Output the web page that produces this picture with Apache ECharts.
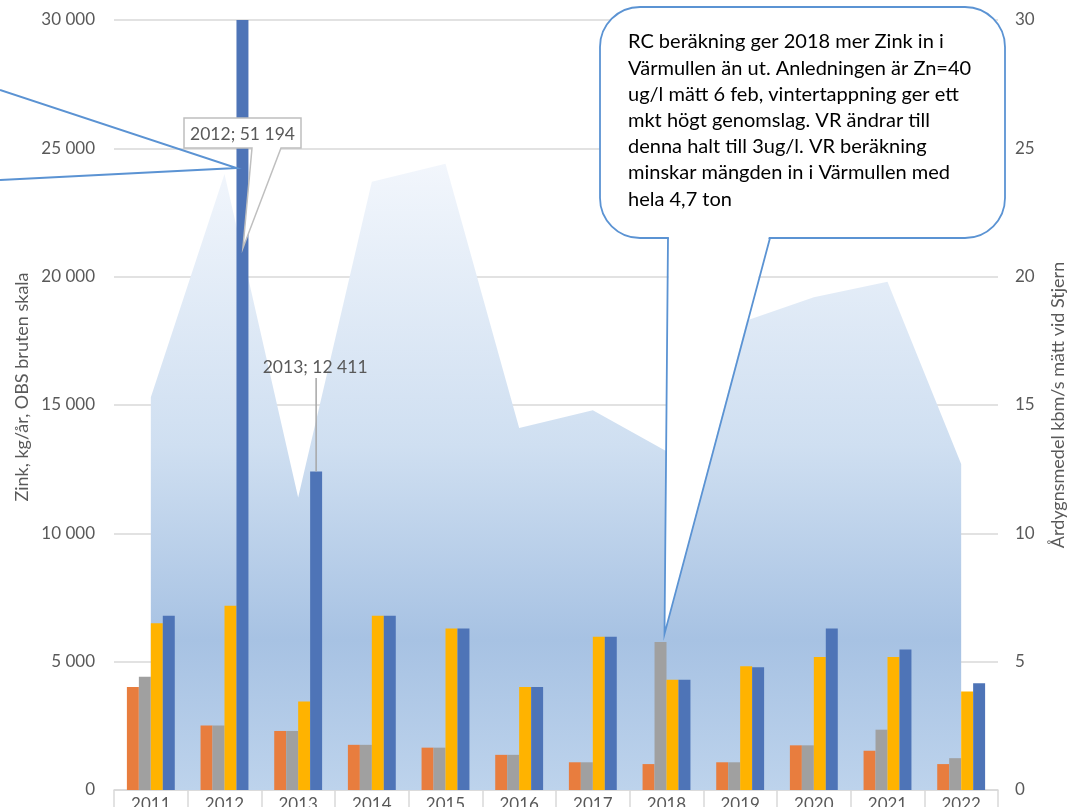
<!DOCTYPE html>
<html>
<head>
<meta charset="utf-8">
<script src="https://cdn.jsdelivr.net/npm/echarts@6/dist/echarts.min.js"></script>
<style>
html,body{margin:0;padding:0;background:#fff;}
#main{width:1082px;height:807px;}
</style>
</head>
<body>
<div id="main"></div>
<script>
const years = ['2011','2012','2013','2014','2015','2016','2017','2018','2019','2020','2021','2022'];
const zinkOrange = [4010, 2510, 2300, 1760, 1650, 1370, 1080, 1010, 1080, 1740, 1530, 1010];
const zinkGray   = [4410, 2510, 2300, 1760, 1650, 1370, 1080, 5770, 1080, 1740, 2350, 1240];
const zinkYellow = [6500, 7180, 3450, 6790, 6290, 4010, 5970, 4300, 4820, 5180, 5180, 3840];
const zinkBlue   = [6790, 51194, 12411, 6790, 6290, 4010, 5970, 4300, 4780, 6290, 5470, 4160];
const flow       = [15.3, 24.0, 11.4, 23.7, 24.4, 14.1, 14.8, 13.2, 18.2, 19.2, 19.8, 12.7];
const leftTicks  = ['0','5 000','10 000','15 000','20 000','25 000','30 000'];
const rightTicks = ['0','5','10','15','20','25','30'];
const leftTitle  = 'Zink, kg/år, OBS bruten skala';
const rightTitle = 'Årdygnsmedel kbm/s mätt vid Stjern';
const noteLines = [
  'RC beräkning ger 2018 mer Zink in i',
  'Värmullen än ut. Anledningen är Zn=40',
  'ug/l mätt 6 feb, vintertappning ger ett',
  'mkt högt genomslag. VR ändrar till',
  'denna halt till 3ug/l. VR beräkning',
  'minskar mängden in i Värmullen med',
  'hela 4,7 ton'
];
const label2012 = '2012; 51 194';
const label2013 = '2013; 12 411';

const FONT = 'Lato, "Open Sans", sans-serif';
const chart = echarts.init(document.getElementById('main'));

const barBase = {
  type: 'bar',
  barGap: '0%',
  barCategoryGap: '35%',
  yAxisIndex: 0,
  xAxisIndex: 0,
  clip: true,
  z: 3
};

chart.setOption({
  animation: false,
  backgroundColor: '#ffffff',
  textStyle: { fontFamily: FONT },
  grid: { left: 114, right: 84, top: 20, bottom: 17, containLabel: false, outerBoundsMode: 'none' },
  xAxis: {
    type: 'category',
    data: years,
    boundaryGap: true,
    axisLine: { lineStyle: { color: '#d9d9d9', width: 1.5 } },
    axisTick: { show: true, interval: 0, length: 22, lineStyle: { color: '#d9d9d9', width: 1.5 } },
    axisLabel: { color: '#595959', fontSize: 17, margin: 6, fontFamily: FONT, interval: 0 }
  },
  yAxis: [
    {
      type: 'value', min: 0, max: 30000, interval: 5000,
      axisLine: { show: false }, axisTick: { show: false },
      splitLine: { lineStyle: { color: '#d9d9d9', width: 1.5 } },
      axisLabel: { color: '#595959', fontSize: 17, margin: 19, fontFamily: FONT,
        formatter: (v) => leftTicks[Math.round(v / 5000)] }
    },
    {
      type: 'value', min: 0, max: 30, interval: 5, position: 'right',
      axisLine: { show: false }, axisTick: { show: false },
      splitLine: { show: false },
      axisLabel: { color: '#595959', fontSize: 17, margin: 17, fontFamily: FONT,
        formatter: (v) => rightTicks[Math.round(v / 5)] }
    }
  ],
  series: [
    {
      type: 'line', name: 'Flöde', data: flow, yAxisIndex: 1, xAxisIndex: 0,
      symbol: 'none', z: 1,
      lineStyle: { width: 0, opacity: 0 },
      areaStyle: {
        opacity: 1,
        color: new echarts.graphic.LinearGradient(0, 0, 0, 1, [
          { offset: 0, color: '#f2f6fc' },
          { offset: 0.45, color: '#cfdff1' },
          { offset: 0.76, color: '#a7c2e3' },
          { offset: 1, color: '#bdd3ec' }
        ])
      }
    },
    Object.assign({}, barBase, { name: 'A', data: zinkOrange, itemStyle: { color: '#e87d3e' } }),
    Object.assign({}, barBase, { name: 'B', data: zinkGray, itemStyle: { color: '#a0a0a0' } }),
    Object.assign({}, barBase, { name: 'C', data: zinkYellow, itemStyle: { color: '#ffb300' } }),
    Object.assign({}, barBase, { name: 'D', data: zinkBlue, itemStyle: { color: '#4e74b7' } })
  ]
});

// anchors derived from the axes
const p2012 = chart.convertToPixel({ xAxisIndex: 0, yAxisIndex: 0 }, ['2012', 0]);
const p2013 = chart.convertToPixel({ xAxisIndex: 0, yAxisIndex: 0 }, ['2013', zinkBlue[2]]);
const p2018 = chart.convertToPixel({ xAxisIndex: 0, yAxisIndex: 0 }, ['2018', zinkGray[7]]);
const catW = p2013[0] - p2012[0];
const barW = catW * 0.65 / 4;
const blue2012X = p2012[0] + 1.5 * barW;
const blue2013X = p2013[0] + 1.5 * barW;

// speech bubble geometry
const bx0 = 600, by0 = 7, bx1 = 1005, by1 = 238, r = 40;
const tailA = 668, tailB = 770;
const tipX = p2018[0] - 2, tipY = p2018[1] - 8;

// 2012 label box geometry
const lx0 = 184, ly0 = 118, lx1 = 301, ly1 = 148;
const lTipX = blue2012X + 0.5, lTipY = 248;

const graphics = [];
// lines from off-canvas callout
graphics.push({ type: 'polyline', z: 50, shape: { points: [[0, 90], [blue2012X - 6, 168], [0, 180]] },
  style: { stroke: '#5b93d3', lineWidth: 2, fill: null } });
graphics.push({ type: 'polygon', z: 60,
  shape: { points: [[lx0, ly0], [lx1, ly0], [lx1, ly1], [281, ly1], [lTipX, lTipY], [252, ly1], [lx0, ly1]] },
  style: { fill: '#ffffff', stroke: '#bfbfbf', lineWidth: 1.5 } });
graphics.push({ type: 'text', z: 61, x: (lx0 + lx1) / 2, y: (ly0 + ly1) / 2 + 1,
  style: { text: label2012, fill: '#595959', font: '17.5px ' + FONT, align: 'center', verticalAlign: 'middle' } });
// 2013 label and leader
graphics.push({ type: 'line', z: 60, shape: { x1: blue2013X, y1: 378, x2: blue2013X, y2: p2013[1] },
  style: { stroke: '#a6a6a6', lineWidth: 1.5 } });
graphics.push({ type: 'text', z: 61, x: blue2013X - 1, y: 367,
  style: { text: label2013, fill: '#595959', font: '17.5px ' + FONT, align: 'center', verticalAlign: 'middle' } });
// bubble
graphics.push({ type: 'rect', z: 70, shape: { x: bx0, y: by0, width: bx1 - bx0, height: by1 - by0, r: r },
  style: { fill: '#ffffff', stroke: '#5b93d3', lineWidth: 1.8 } });
graphics.push({ type: 'polygon', z: 71,
  shape: { points: [[tailA + 0.9, by1 - 2], [tipX, tipY], [tailB - 0.9, by1 - 2]] },
  style: { fill: '#ffffff', stroke: null } });
graphics.push({ type: 'polyline', z: 72,
  shape: { points: [[tailA, by1], [tipX, tipY], [tailB, by1]] },
  style: { stroke: '#5b93d3', lineWidth: 1.8, fill: null } });
noteLines.forEach((t, i) => {
  graphics.push({ type: 'text', z: 73, x: 628, y: 42 + i * 26.2,
    style: { text: t, fill: '#000000', font: '20px ' + FONT, align: 'left', verticalAlign: 'middle' } });
});
// axis titles
graphics.push({ type: 'text', z: 40, x: 22, y: 387, rotation: Math.PI / 2,
  style: { text: leftTitle, fill: '#595959', font: '18px ' + FONT, align: 'center', verticalAlign: 'middle' } });
graphics.push({ type: 'text', z: 40, x: 1058, y: 405, rotation: Math.PI / 2,
  style: { text: rightTitle, fill: '#595959', font: '18px ' + FONT, align: 'center', verticalAlign: 'middle' } });

chart.setOption({ graphic: graphics });
</script>
</body>
</html>
